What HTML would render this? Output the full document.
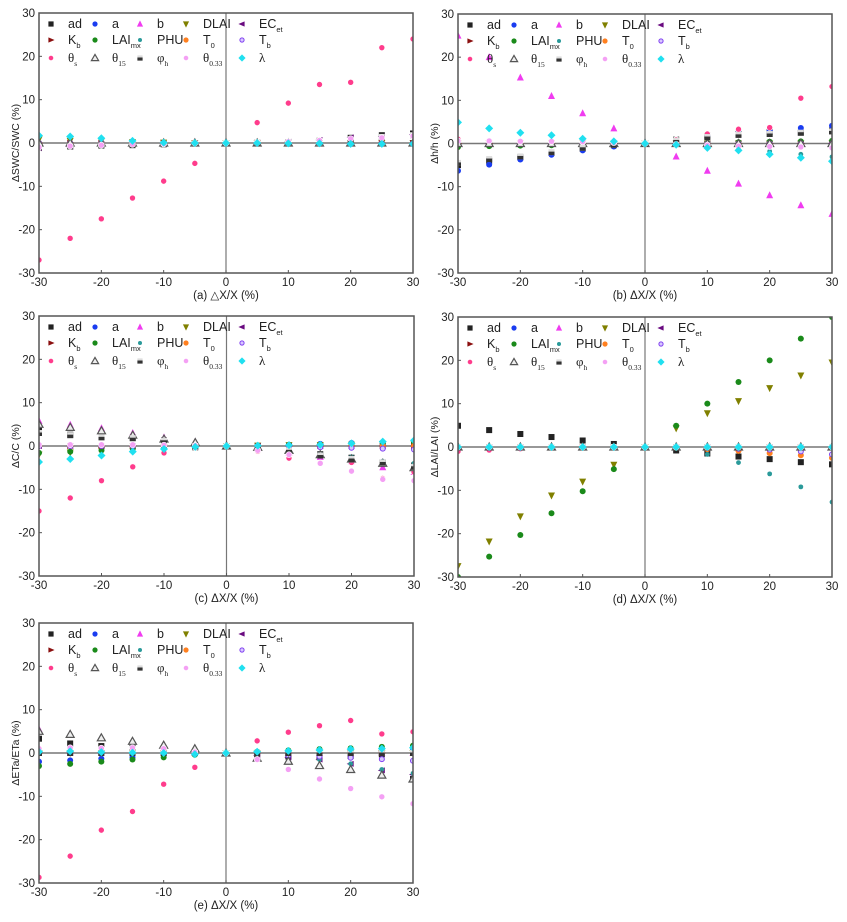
<!DOCTYPE html>
<html><head><meta charset="utf-8">
<style>
body{margin:0;background:#fff;}
svg{display:block;font-family:"Liberation Sans",sans-serif;}
</style></head>
<body>
<svg id="fig" width="847" height="922" viewBox="0 0 847 922" xmlns="http://www.w3.org/2000/svg"></svg>
<script>
const xValues = [-30,-25,-20,-15,-10,-5,0,5,10,15,20,25,30];
const yTicks = [30,20,10,0,-10,-20,-30];
const xTicks = [-30,-20,-10,0,10,20,30];

// Panel a
const a_thetaS = [-27,-22,-17.5,-12.7,-8.8,-4.7,0,4.7,9.2,13.5,14,22,24];
const a_ad = [-0.5,-0.5,-0.3,-0.3,-0.2,0,0,0.1,0.2,0.5,1.2,1.8,2.2];
const a_lambda = [1.7,1.5,1.1,0.5,0.1,0,0,0,-0.1,-0.1,-0.2,-0.2,-0.2];
const a_phiH = [-1,-0.8,-0.6,-0.5,-0.3,-0.1,0,0.1,0.2,0.4,0.8,1.4,1.8];
const a_theta033 = [-1,-0.7,-0.5,-0.3,-0.2,0,0,0.1,0.3,0.6,1,1.2,1.6];
const a_dlai = [0.8,0.5,0.4,0.2,0.1,0,0,0,0,0,0,0,0];
const a_ecet = [-1.2,-0.9,-0.6,-0.4,-0.2,0,0,0.1,0.3,0.7,1.3,1.5,1.9];

// Panel b
const b_b = [25,20,15.3,11,7,3.5,0,-3,-6.3,-9.3,-12,-14.3,-16.3];
const b_a = [-6.3,-4.9,-3.7,-2.6,-1.6,-0.7,0,0.8,1.8,2.5,3,3.6,4.1];
const b_ad = [-5,-4,-3.2,-2.2,-1.2,-0.4,0,0.9,1.8,2.3,2.7,2.5,3];
const b_thetaS = [1,0.5,0.3,0.2,0.1,0,0,0.9,2.2,3.3,3.7,10.5,13.2];
const b_lambda = [4.9,3.5,2.5,1.9,1.1,0.5,0,-0.3,-1,-1.6,-2.5,-3.3,-4.1];
const b_phu = [0.5,0.4,0.3,0.2,0.1,0,0,-0.3,-0.6,-1.1,-1.8,-2.5,-3.1];
const b_laimx = [-0.8,-0.6,-0.5,-0.4,-0.2,-0.1,0,0.1,0.2,0.3,0.4,0.5,0.6];
const b_phiH = [-4.5,-3.6,-3,-2,-1,-0.3,0,0.7,1.5,2,2.2,2.5,2.8];
const b_theta033 = [0.6,0.6,0.5,0.5,0.4,0.2,0,-0.2,-0.4,-0.6,-0.7,-0.8,-1];

// Panel c
const c_thetaS = [-15,-12,-8,-4.8,-1.6,-0.3,0,-1.2,-2.8,-3.9,-3.8,-7.5,-6];
const c_b = [5.8,4.9,4.1,3.0,2.0,1.0,0,-0.5,-1.5,-2.5,-3.5,-4.9,-6];
const c_theta15 = [5,4.3,3.5,2.5,1.6,0.8,0,-0.3,-1,-2,-3,-4,-5];
const c_ad = [3.5,2.6,2.2,1.9,1.3,-0.3,0,-0.2,-0.8,-1.9,-2.7,-3.8,-4.5];
const c_phiH = [3,2.5,2,1.8,1.2,0,0,-0.3,-1,-2.2,-3,-3.8,-4.8];
const c_lambda = [-3.7,-3,-2.2,-1.3,-0.7,-0.2,0,0.1,0.2,0.3,0.6,1,1.3];
const c_laimx = [-1.6,-1.3,-1,-0.6,-0.3,-0.1,0,0.1,0.2,0.3,0.4,0.6,0.8];
const c_dlai = [-2,-1.5,-1,-0.5,-0.3,-0.1,0,0.1,0.2,0.2,0.3,0.4,0.5];
const c_theta033 = [0.3,0.3,0.3,0.3,0.2,0.1,0,-1,-2,-4,-5.8,-7.7,-8];
const c_a = [0,0,0,0,0,0,0,0.1,0.3,0.5,0.7,0.8,0.9];
const c_phu = [0,0,0,0,0,0,0,-0.2,-0.8,-1.8,-2.5,-3.5,-4];
const c_tb = [0,0,0,0,0,0,0,-0.1,-0.2,-0.3,-0.4,-0.6,-0.8];

// Panel d
const d_laimx = [-30,-25.3,-20.3,-15.3,-10.2,-5.1,0,4.9,10,15,20,25,30];
const d_dlai = [-27.5,-21.8,-16,-11.2,-8,-4.1,0,4.3,7.8,10.6,13.6,16.5,19.5];
const d_ad = [4.9,3.9,3.0,2.3,1.5,0.7,0,-0.8,-1.5,-2.2,-2.8,-3.5,-4];
const d_phu = [0,0,0,0,0,0,0,0,-1.7,-3.6,-6.2,-9.2,-12.7];
const d_t0 = [0,0,0,0,0,0,0,-0.2,-0.5,-0.9,-1.4,-1.9,-2.5];
const d_tb = [0,0,0,0,0,0,0,0,-0.2,-0.4,-0.6,-1,-1.7];
const d_thetaS = [-1,-0.7,-0.4,-0.2,-0.1,0,0,0,0,0,0,0,0];

// Panel e
const e_thetaS = [-28.7,-23.8,-17.8,-13.5,-7.2,-3.3,0,2.8,4.8,6.3,7.5,4.4,4.9];
const e_theta15 = [5,4.3,3.5,2.7,1.8,1,0,-1.2,-1.9,-2.9,-3.8,-5.1,-6];
const e_ad = [3.3,2.2,1.6,1.2,0.5,0,0,-0.3,-0.8,-1,-0.7,-0.3,-6];
const e_theta033 = [1,1.2,1.1,1.2,1,0.2,0,-1.5,-3.8,-6,-8.2,-10.1,-11.7];
const e_a = [-2,-1.7,-1.3,-1,-0.5,-0.2,0,0.1,0.2,0.3,0.4,0.5,0.6];
const e_laimx = [-3,-2.5,-2,-1.5,-1,-0.4,0,0.3,0.6,0.9,1.1,1.4,1.7];
const e_lambda = [0.3,0.4,0.2,0.1,0,-0.3,0,0.3,0.5,0.7,0.9,1.0,1.2];
const e_tb = [0,0,0,0,0,0,0,-0.2,-0.5,-0.8,-1.1,-1.4,-1.8];
const e_ecet = [0,0,0,0,0,0,0,-0.5,-1,-1.5,-2.5,-4,-5];
const e_phu = [0,0,0,0,0,0,0,-0.3,-0.8,-1.5,-2.5,-3.8,-4.7];
const e_b = [5.5,4.5,3.6,2.8,2,1.1,0,0,0,0,0,0,0];

const zeros = [0,0,0,0,0,0,0,0,0,0,0,0,0];

const SERIES = [
 {k:'ad',lab:['ad',''],m:'sq',c:'#222'},
 {k:'a',lab:['a',''],m:'ci',c:'#1a3cf0'},
 {k:'b',lab:['b',''],m:'tu',c:'#f03cf0'},
 {k:'dlai',lab:['DLAI',''],m:'td',c:'#808000'},
 {k:'ecet',lab:['EC','et'],m:'tl',c:'#6a0a80'},
 {k:'kb',lab:['K','b'],m:'tr',c:'#8b1010'},
 {k:'laimx',lab:['LAI','mx'],m:'ci',c:'#1a8a1a'},
 {k:'phu',lab:['PHU',''],m:'st',c:'#2a9a9a'},
 {k:'t0',lab:['T','0'],m:'ci',c:'#ff8020'},
 {k:'tb',lab:['T','b'],m:'oc',c:'#8040f0'},
 {k:'thetaS',lab:['θ','s'],m:'pc',c:'#ff3c8c'},
 {k:'theta15',lab:['θ','15'],m:'ot',c:'#555'},
 {k:'phiH',lab:['φ','h'],m:'hs',c:'#333'},
 {k:'theta033',lab:['θ','0.33'],m:'pc',c:'#f4a0f4'},
 {k:'lambda',lab:['λ',''],m:'di',c:'#20e0f0'}
];

const PANELS = [
 {id:'a',x0:39,y0:13,w:374,h:260,yt:'ΔSWC/SWC (%)',xt:'(a) △X/X (%)',d:{thetaS:a_thetaS,ad:a_ad,lambda:a_lambda,phiH:a_phiH,theta033:a_theta033,dlai:a_dlai,ecet:a_ecet}},
 {id:'b',x0:458,y0:14,w:374,h:259,yt:'Δh/h (%)',xt:'(b) ΔX/X (%)',d:{b:b_b,a:b_a,ad:b_ad,thetaS:b_thetaS,lambda:b_lambda,phu:b_phu,laimx:b_laimx,phiH:b_phiH,theta033:b_theta033}},
 {id:'c',x0:39,y0:316,w:375,h:260,yt:'ΔC/C (%)',xt:'(c) ΔX/X (%)',d:{thetaS:c_thetaS,b:c_b,theta15:c_theta15,ad:c_ad,phiH:c_phiH,lambda:c_lambda,laimx:c_laimx,dlai:c_dlai,theta033:c_theta033,a:c_a,phu:c_phu,tb:c_tb}},
 {id:'d',x0:458,y0:317,w:374,h:260,yt:'ΔLAI/LAI (%)',xt:'(d) ΔX/X (%)',d:{laimx:d_laimx,dlai:d_dlai,ad:d_ad,phu:d_phu,t0:d_t0,tb:d_tb,thetaS:d_thetaS}},
 {id:'e',x0:39,y0:623,w:374,h:260,yt:'ΔETa/ETa (%)',xt:'(e) ΔX/X (%)',d:{thetaS:e_thetaS,theta15:e_theta15,ad:e_ad,theta033:e_theta033,a:e_a,laimx:e_laimx,lambda:e_lambda,tb:e_tb,ecet:e_ecet,phu:e_phu,b:e_b}}
];

const NS='http://www.w3.org/2000/svg';
const svg=document.getElementById('fig');
function el(t,attrs,parent){const e=document.createElementNS(NS,t);for(const k in attrs)e.setAttribute(k,attrs[k]);(parent||svg).appendChild(e);return e;}

function marker(g,m,c,x,y,r){
  let e;
  if(m==='sq'){e=el('rect',{x:x-r,y:y-r,width:2*r,height:2*r,fill:c},g);}
  else if(m==='ci'){e=el('circle',{cx:x,cy:y,r:r,fill:c},g);}
  else if(m==='oc'){e=el('circle',{cx:x,cy:y,r:r-0.5,fill:'#d8c8ff',stroke:c,'stroke-width':1},g);}
  else if(m==='pc'){e=el('circle',{cx:x,cy:y,r:r,fill:c,stroke:'#fff','stroke-width':0.6},g);}
  else if(m==='tu'){e=el('polygon',{points:`${x},${y-r-1} ${x-r-0.5},${y+r} ${x+r+0.5},${y+r}`,fill:c},g);}
  else if(m==='td'){e=el('polygon',{points:`${x},${y+r+1} ${x-r-0.5},${y-r} ${x+r+0.5},${y-r}`,fill:c},g);}
  else if(m==='tl'){e=el('polygon',{points:`${x-r-1},${y} ${x+r},${y-r} ${x+r},${y+r}`,fill:c},g);}
  else if(m==='tr'){e=el('polygon',{points:`${x+r+1},${y} ${x-r},${y-r} ${x-r},${y+r}`,fill:c},g);}
  else if(m==='ot'){e=el('polygon',{points:`${x},${y-r-1} ${x-r-1},${y+r} ${x+r+1},${y+r}`,fill:'#eee',stroke:c,'stroke-width':1.2},g);}
  else if(m==='hs'){el('rect',{x:x-r,y:y-r,width:2*r,height:2*r,fill:'#ddd'},g);e=el('rect',{x:x-r,y:y-0.5,width:2*r,height:r+0.5,fill:c},g);}
  else if(m==='di'){e=el('polygon',{points:`${x},${y-r-1} ${x+r+1},${y} ${x},${y+r+1} ${x-r-1},${y}`,fill:c},g);}
  else if(m==='st'){e=el('circle',{cx:x,cy:y,r:r-0.6,fill:c},g);}
  return e;
}

PANELS.forEach(p=>{
  const g=el('g',{});
  
  
  const sx=v=>p.x0+(v+30)/60*p.w;
  const sy=v=>p.y0+(30-v)/60*p.h;
  const cp=el('clipPath',{id:'clip'+p.id},g);
  el('rect',{x:p.x0,y:p.y0,width:p.w,height:p.h},cp);
  const zl=el('line',{x1:p.x0,x2:p.x0+p.w,y1:sy(0),y2:sy(0),stroke:'#777','stroke-width':1.5},g);
  
  
  const vl=el('line',{x1:sx(0),x2:sx(0),y1:p.y0,y2:p.y0+p.h,stroke:'#777','stroke-width':1.2},g);
  
  
  yTicks.forEach(t=>{
    const tx=el('text',{x:p.x0-4,y:sy(t)+4,'text-anchor':'end','font-size':11.5,fill:'#222'},g);tx.textContent=t;
    
    
    el('line',{x1:p.x0,x2:p.x0+3,y1:sy(t),y2:sy(t),stroke:'#555'},g);
  });
  xTicks.forEach(t=>{
    const tx=el('text',{x:sx(t),y:p.y0+p.h+13,'text-anchor':'middle','font-size':11.5,fill:'#222'},g);tx.textContent=t;
    
    
    el('line',{x1:sx(t),x2:sx(t),y1:p.y0+p.h,y2:p.y0+p.h-3,stroke:'#555'},g);
  });
  const xt=el('text',{x:sx(0),y:p.y0+p.h+26,'text-anchor':'middle','font-size':11.5,fill:'#222'},g);xt.textContent=p.xt;
  
  
  const yt=el('text',{x:0,y:0,'text-anchor':'middle','font-size':10.5,fill:'#222',transform:`translate(${p.x0-20},${p.y0+p.h/2}) rotate(-90)`},g);yt.textContent=p.yt;
  
  
  const dg=el('g',{'clip-path':`url(#clip${p.id})`},g);
  SERIES.forEach(s=>{
    const vals=p.d[s.k]||zeros;
    const sg=el('g',{},dg);
    
    
    vals.forEach((v,i)=>{
      const mk=marker(sg,s.m,s.c,sx(xValues[i]),sy(v),3);
      
      
    });
  });
  const lg=el('g',{},g);
  
  
  const colX=[12,56,101,147,203];
  const rowY=[11,27,45];
  SERIES.forEach((s,i)=>{
    const col=i%5,row=Math.floor(i/5);
    const mx=p.x0+colX[col],my=p.y0+rowY[row];
    const eg=el('g',{},lg);
    
    
    marker(eg,s.m,s.c,mx,my,2.6);
    const isGreek=row===2||s.k==='lambda';
    const t=el('text',{x:mx+17,y:my+4,'font-size':isGreek?13:12.5,fill:'#222','font-family':isGreek?'"Liberation Serif",serif':'"Liberation Sans",sans-serif'},eg);
    const t1=el('tspan',{},t);t1.textContent=s.lab[0];
    if(s.lab[1]){const t2=el('tspan',{dy:4,'font-size':7.5},t);t2.textContent=s.lab[1];}
  });
  const fr=el('rect',{x:p.x0,y:p.y0,width:p.w,height:p.h,fill:'none',stroke:'#555','stroke-width':1.5},g);
  
  
});
</script>
</body></html>
